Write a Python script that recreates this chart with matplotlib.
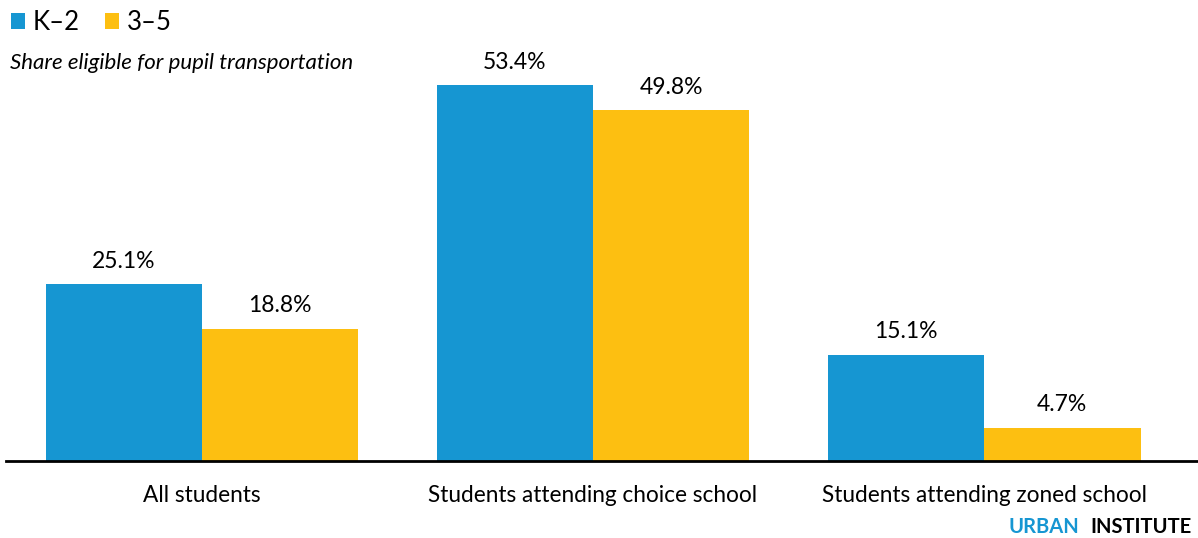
import matplotlib.pyplot as plt
import numpy as np

plt.rcParams['font.family'] = ['Lato', 'DejaVu Sans']

categories = ["All students", "Students attending choice school", "Students attending zoned school"]
k2 = [25.1, 53.4, 15.1]
g35 = [18.8, 49.8, 4.7]
series_names = ["K\u20132", "3\u20135"]

BLUE = "#1696d2"
YELLOW = "#fdbf11"

fig = plt.figure(figsize=(11.98, 5.38), dpi=100)
ax = fig.add_axes([0.0, 0.1431, 1.0, 0.785])

x = np.arange(len(categories))
w = 0.4
b1 = ax.bar(x - w / 2, k2, w, color=BLUE, label=series_names[0])
b2 = ax.bar(x + w / 2, g35, w, color=YELLOW, label=series_names[1])

for bars, vals in ((b1, k2), (b2, g35)):
    for rect, v in zip(bars, vals):
        ax.annotate(f"{v}%", (rect.get_x() + rect.get_width() / 2, v),
                    xytext=(0, 9), textcoords="offset points",
                    ha="center", va="bottom", fontsize=16.5, color="#000000")

ax.set_xlim(-0.5166, 2.547)
ax.set_ylim(0, 60)
ax.set_xticks(x)
ax.set_xticklabels(categories, fontsize=16.3)
ax.tick_params(axis="x", length=0, pad=17)
ax.set_yticks([])
for s in ("top", "right", "left"):
    ax.spines[s].set_visible(False)
ax.spines["bottom"].set_linewidth(2)
ax.spines["bottom"].set_color("black")
ax.spines["bottom"].set_bounds(-0.502, 2.547)

# legend and subtitle across the top
fig.legend(handles=[b1, b2], labels=series_names, loc="upper left",
           bbox_to_anchor=(-0.006, 1.015), ncol=2, frameon=False, fontsize=18.5,
           handlelength=0.55, handleheight=0.55, handletextpad=0.3, columnspacing=1.0,
           borderaxespad=0.3)
fig.text(0.008, 0.883, "Share eligible for pupil transportation", fontsize=16,
         style="italic", ha="left", va="center")

# source mark in the corner
fig.text(1008 / 1198, 5 / 538, "URBAN", fontsize=14.5, fontweight="bold",
         color=BLUE, ha="left", va="baseline")
fig.text(1090 / 1198, 5 / 538, "INSTITUTE", fontsize=14.5, fontweight="bold",
         color="#000000", ha="left", va="baseline")

fig.savefig("out.png", dpi=100)
